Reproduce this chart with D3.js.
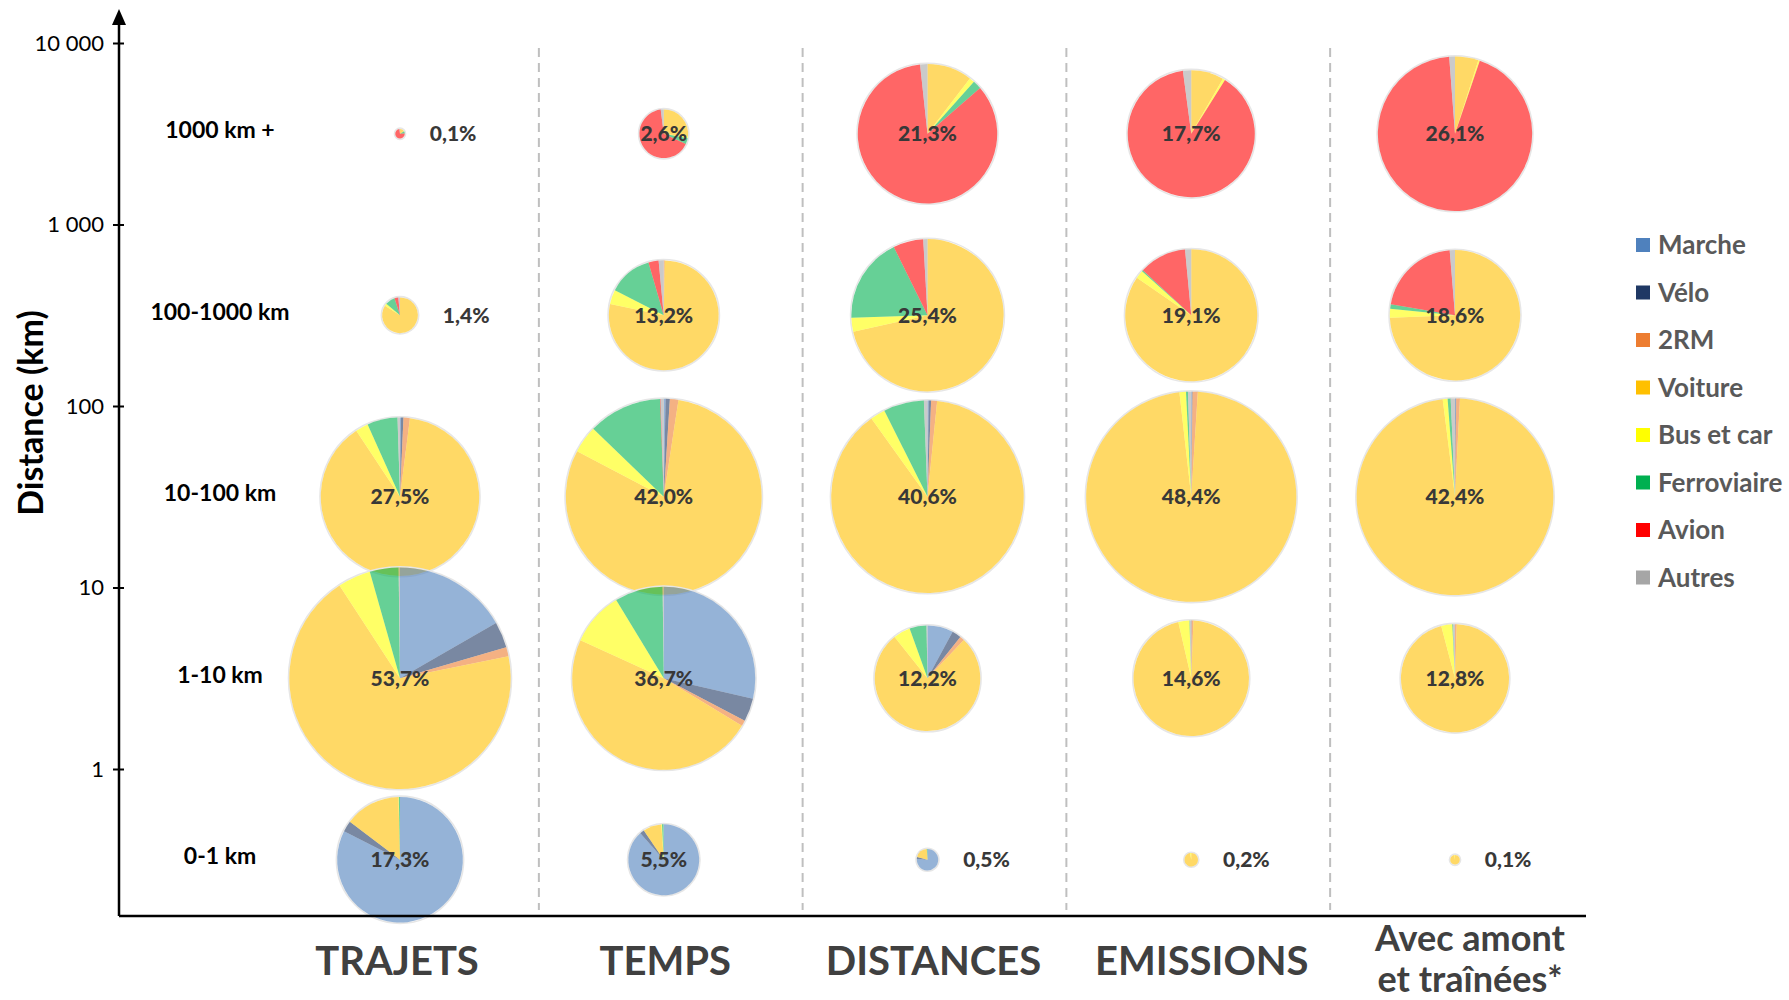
<!DOCTYPE html>
<meta charset="utf-8">
<head>
  <meta charset="utf-8">
  <script src="https://d3js.org/d3.v7.min.js"></script>
  <style>
    body { margin: 0; background: #fff; }
    svg { display: block; font-family: Lato, "Open Sans", sans-serif; }
  </style>
</head>
<body>
<div id="chart"></div>
<script>
// modes, in the clockwise order of the slices
var modes = ["Marche", "Vélo", "2RM", "Voiture", "Bus et car", "Ferroviaire", "Avion", "Autres"];
var modeColors = ["#4F81BD", "#1F3864", "#ED7D31", "#FFC000", "#FFFF00", "#00B050", "#FF0000", "#A6A6A6"];

var columns = ["TRAJETS", "TEMPS", "DISTANCES", "EMISSIONS", "Avec amont|et traînées*"];
var rows = ["1000 km +", "100-1000 km", "10-100 km", "1-10 km", "0-1 km"];
var rowLow = [1000, 100, 10, 1, 0.1];
var rowHigh = [10000, 1000, 100, 10, 1];
var yTicks = [1, 10, 100, 1000, 10000];

// share of each distance band in the column total (%)
var trajetsPct = [0.1, 1.4, 27.5, 53.7, 17.3];
var tempsPct = [2.6, 13.2, 42.0, 36.7, 5.5];
var distancesPct = [21.3, 25.4, 40.6, 12.2, 0.5];
var emissionsPct = [17.7, 19.1, 48.4, 14.6, 0.2];
var amontPct = [26.1, 18.6, 42.4, 12.8, 0.1];

// modal split inside each pie (%), rows top to bottom
var trajetsSplit = [
  [0, 0, 0, 15, 1, 8, 74, 2],
  [0, 0, 0, 84, 2, 9, 3.5, 1.5],
  [0.2, 0.5, 1.3, 88.7, 2.6, 6.2, 0, 0.5],
  [16.7, 3.8, 1.3, 69, 4.8, 4.2, 0, 0.2],
  [82.5, 2.8, 0, 14.3, 0.1, 0.3, 0, 0]
];
var tempsSplit = [
  [0, 0, 0, 27, 1, 4, 66, 2],
  [0, 0, 0.3, 78, 4.2, 13, 3, 1.5],
  [0.3, 0.7, 1.4, 80.3, 4.5, 12.2, 0.1, 0.5],
  [28.6, 4.1, 1.0, 48.1, 9.5, 8.5, 0, 0.2],
  [88.5, 2, 0, 8.4, 0.3, 0.7, 0, 0.1]
];
var distancesSplit = [
  [0, 0, 0, 10.4, 1.2, 2.0, 84.7, 1.7],
  [0, 0, 0, 71.5, 3, 18.2, 6.4, 0.9],
  [0.2, 0.4, 1.0, 88.5, 2.5, 6.8, 0, 0.6],
  [7.9, 2.8, 1.4, 77.2, 5.2, 5.2, 0, 0.3],
  [76, 3, 0, 20, 0, 1, 0, 0]
];
var emissionsSplit = [
  [0, 0, 0, 8.3, 0.6, 0, 89, 2.1],
  [0, 0, 0, 84.6, 2, 0.3, 11.6, 1.5],
  [0.1, 0.1, 0.8, 97.2, 1.0, 0.3, 0, 0.5],
  [0, 0.1, 0.5, 95.8, 3.1, 0.1, 0, 0.4],
  [0, 0, 0, 97, 3, 0, 0, 0]
];
var amontSplit = [
  [0, 0, 0, 4.9, 0.3, 0, 93.6, 1.2],
  [0, 0, 0, 74.4, 2.2, 1.1, 21, 1.3],
  [0.1, 0.1, 0.6, 97.2, 0.8, 0.5, 0, 0.7],
  [0, 0, 0.5, 95.4, 3.3, 0.2, 0, 0.6],
  [0, 0, 0, 98, 2, 0, 0, 0]
];

var pctByCol = [trajetsPct, tempsPct, distancesPct, emissionsPct, amontPct];
var splitByCol = [trajetsSplit, tempsSplit, distancesSplit, emissionsSplit, amontSplit];

var width = 1789, height = 1000;
var axisX = 119, axisBottom = 916;

var fr = d3.formatLocale({decimal: ",", thousands: " ", grouping: [3], currency: ["", " €"]});
var fmtTick = fr.format(",");
var fmtPct = fr.format(".1f");

var svg = d3.select("#chart").append("svg")
  .attr("width", width)
  .attr("height", height);

// scales
var y = d3.scaleLog().domain([1, 10000]).range([769, 43]);
var x = d3.scalePoint().domain(columns).range([400, 1455]);
var xTitle = d3.scalePoint().domain(columns).range([397, 1470]);
var r = d3.scaleSqrt().domain([0, 53.7]).range([0, 110.7]);
var color = d3.scaleOrdinal().domain(modes).range(modeColors);

// dashed separators between the columns
var seps = d3.range(columns.length - 1).map(function(i) {
  return (x(columns[i]) + x(columns[i + 1])) / 2 + 7;
});
svg.append("g").selectAll("line")
  .data(seps)
  .enter().append("line")
    .attr("x1", function(d) { return d; })
    .attr("x2", function(d) { return d; })
    .attr("y1", 48)
    .attr("y2", 910)
    .attr("stroke", "#BFBFBF")
    .attr("stroke-width", 2)
    .attr("stroke-dasharray", "9,6");

// pies
var cells = [];
columns.forEach(function(c, ci) {
  rows.forEach(function(rw, ri) {
    cells.push({
      col: c,
      row: rw,
      pct: pctByCol[ci][ri],
      split: splitByCol[ci][ri],
      mid: Math.sqrt(rowLow[ri] * rowHigh[ri])
    });
  });
});

var pie = d3.pie().sort(null).value(function(d) { return d; });

var pies = svg.append("g").selectAll("g")
  .data(cells)
  .enter().append("g")
    .attr("transform", function(d) { return "translate(" + x(d.col) + "," + y(d.mid) + ")"; });

pies.append("circle")
  .attr("r", function(d) { return r(d.pct) + 0.8; })
  .attr("fill", "none")
  .attr("stroke", "#E6E6E6")
  .attr("stroke-width", 1.6);

pies.each(function(d) {
  var arc = d3.arc().innerRadius(0).outerRadius(r(d.pct));
  d3.select(this).selectAll("path")
    .data(pie(d.split))
    .enter().append("path")
      .attr("d", arc)
      .attr("fill", function(s, i) { return modeColors[i]; })
      .attr("fill-opacity", 0.6);
});

// percentage labels
svg.append("g").selectAll("text")
  .data(cells)
  .enter().append("text")
    .attr("x", function(d) { return d.pct < 2 ? x(d.col) + r(d.pct) + 25 : x(d.col); })
    .attr("y", function(d) { return y(d.mid); })
    .attr("dy", "0.36em")
    .attr("text-anchor", function(d) { return d.pct < 2 ? "start" : "middle"; })
    .style("font-size", "21px")
    .style("font-weight", 900)
    .style("fill", "#383838")
    .text(function(d) { return fmtPct(d.pct) + "%"; });

// row labels
svg.append("g").selectAll("text")
  .data(rows)
  .enter().append("text")
    .attr("x", 220)
    .attr("y", function(d, i) { return y(Math.sqrt(rowLow[i] * rowHigh[i])) - 4; })
    .attr("dy", "0.36em")
    .attr("text-anchor", "middle")
    .style("font-size", "23px")
    .style("font-weight", "bold")
    .style("fill", "#000")
    .text(function(d) { return d; });

// y axis
var yAxis = svg.append("g")
  .attr("transform", "translate(" + axisX + ",0)")
  .call(d3.axisLeft(y).tickValues(yTicks).tickFormat(fmtTick).tickSize(6).tickPadding(9));
yAxis.select(".domain").remove();
yAxis.selectAll(".tick line").attr("x1", 5).attr("stroke", "#000").attr("stroke-width", 2);
yAxis.selectAll(".tick text")
  .style("font-size", "22px")
  .style("font-family", "Lato, sans-serif")
  .style("fill", "#000");

svg.append("line")
  .attr("x1", axisX).attr("x2", axisX)
  .attr("y1", 22).attr("y2", axisBottom)
  .attr("stroke", "#000")
  .attr("stroke-width", 2.5);
svg.append("path")
  .attr("d", "M" + axisX + ",9 L" + (axisX - 7) + ",25 L" + (axisX + 7) + ",25 Z")
  .attr("fill", "#000");

svg.append("line")
  .attr("x1", axisX).attr("x2", 1586)
  .attr("y1", axisBottom).attr("y2", axisBottom)
  .attr("stroke", "#000")
  .attr("stroke-width", 2.5);

svg.append("text")
  .attr("transform", "translate(31,413) rotate(-90)")
  .attr("text-anchor", "middle")
  .attr("dy", "0.36em")
  .style("font-size", "34px")
  .style("font-weight", "bold")
  .style("fill", "#000")
  .text("Distance (km)");

// column titles (a "|" splits a title over two lines)
svg.append("g").selectAll("g")
  .data(columns)
  .enter().append("g")
  .each(function(d) {
    var parts = d.split("|");
    var big = parts.length === 1;
    d3.select(this).selectAll("text")
      .data(parts)
      .enter().append("text")
        .attr("x", xTitle(d))
        .attr("y", function(p, i) { return big ? 975 : 951 + i * 41; })
        .attr("text-anchor", "middle")
        .style("font-size", big ? "40px" : "36px")
        .style("font-weight", "bold")
        .style("fill", "#404040")
        .text(function(p) { return p; });
  });

// legend
var legend = svg.append("g").selectAll("g")
  .data(modes)
  .enter().append("g")
    .attr("transform", function(d, i) { return "translate(1636," + (245 + i * 47.5) + ")"; });
legend.append("rect")
  .attr("x", 0).attr("y", -7)
  .attr("width", 14).attr("height", 14)
  .attr("fill", function(d) { return color(d); });
legend.append("text")
  .attr("x", 22)
  .attr("dy", "0.36em")
  .style("font-size", "26px")
  .style("font-weight", "bold")
  .style("fill", "#595959")
  .text(function(d) { return d; });
</script>
</body>
